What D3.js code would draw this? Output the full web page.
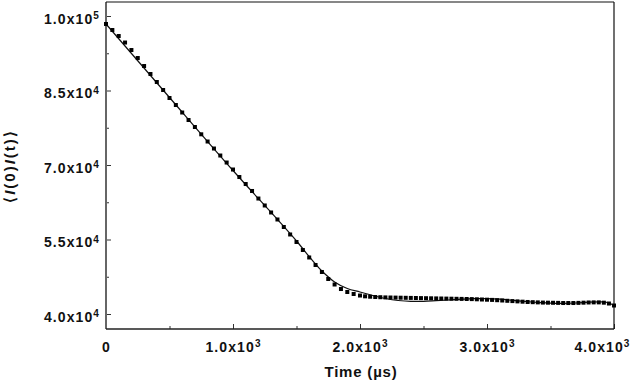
<!DOCTYPE html>
<html>
<head>
<meta charset="utf-8">
<script src="https://cdn.jsdelivr.net/npm/d3@7"></script>
<style>
  body { margin: 0; background: #fff; }
  svg text { font-family: "Liberation Sans", Arial, sans-serif; font-weight: bold; fill: #111; }
</style>
</head>
<body>
<svg id="chart" width="636" height="389"></svg>
<script>
// measured correlation (squares)
const pointTimes = [
  0, 50, 100, 150, 200, 250, 300, 350, 400, 450, 500, 550, 600, 650, 700, 750, 800, 850, 900, 950,
  1000, 1050, 1100, 1150, 1200, 1250, 1300, 1350, 1400, 1450, 1500, 1550, 1600, 1650, 1700, 1750,
  1800, 1850, 1900, 1950, 2000,
  2040, 2080, 2120, 2160, 2200, 2240, 2280, 2320, 2360, 2400, 2440, 2480, 2520, 2560, 2600, 2640,
  2680, 2720, 2760, 2800, 2840, 2880, 2920, 2960, 3000, 3040, 3080, 3120, 3160, 3200, 3240, 3280,
  3320, 3360, 3400, 3440, 3480, 3520, 3560, 3600, 3640, 3680, 3720, 3760, 3800, 3840, 3880, 3920,
  3960, 4000
]
const pointValues = [
  98390, 97180, 95970, 94660, 93150, 91540, 89930, 88320, 86710, 85100, 83490, 82080, 80570, 79060,
  77650, 76180, 74730, 73320, 71910, 70500, 69090, 67580, 66170, 64770, 63250, 61850, 60440, 59030,
  57520, 56010, 54500, 52890, 51380, 49870, 48460, 47050, 45940, 45030, 44430, 44030, 43720,
  43560, 43480, 43420, 43380, 43340, 43320, 43300, 43280, 43260, 43240, 43220, 43200, 43180, 43160,
  43140, 43120, 43100, 43080, 43060, 43040, 43020, 43000, 42960, 42920, 42880, 42840, 42780, 42720,
  42660, 42600, 42540, 42480, 42420, 42380, 42340, 42300, 42280, 42260, 42240, 42210, 42210, 42210,
  42240, 42280, 42320, 42340, 42340, 42280, 42110, 41710
]

// fitted curve (solid line)
const fitTimes = [0, 500, 1000, 1500, 1700, 1800, 1900, 2000, 2100, 2200, 2300, 2400, 2500, 2600,
  2700, 2800, 2900, 3000, 3100, 3200, 3300, 3400, 3500, 3600, 3700, 3800, 3900, 3950, 4000]
const fitValues = [98390, 83590, 68890, 54700, 48660, 46440, 45130, 44430, 43720, 43120, 42720,
  42560, 42560, 42680, 42820, 42980, 43080, 43080, 42980, 42760, 42520, 42320, 42170, 42150, 42210,
  42380, 42460, 42320, 41710]

const xMajor = [0, 1000, 2000, 3000, 4000]
const xMinor = [500, 1500, 2500, 3500]
const yMajor = [40000, 55000, 70000, 85000, 100000]
const yMinor = [47500, 62500, 77500, 92500]

const svg = d3.select('#chart')
const x = d3.scaleLinear().domain([0, 4000]).range([106, 614])
const y = d3.scaleLinear().domain([36980, 102820]).range([329, 2])

function sciLabel (sel) {
  sel.each(function (v) {
    const t = d3.select(this).text(null)
    if (v === 0) { t.text('0'); return }
    const e = Math.floor(Math.log10(v))
    t.append('tspan').text((v / 10 ** e).toFixed(1) + 'x10')
    t.append('tspan').attr('dy', '-0.45em').attr('font-size', '10px').text(e)
  })
}

// axes, ticks pointing inward
const yAxis = svg.append('g').attr('transform', `translate(${x.range()[0]},0)`)
  .call(d3.axisLeft(y).tickValues(yMajor).tickSize(-5).tickPadding(6))
yAxis.selectAll('text').attr('dy', '0.5em').style('font-size', '14px')
  .style('letter-spacing', '1.1px').call(sciLabel)
svg.append('g').attr('transform', `translate(${x.range()[0]},0)`)
  .call(d3.axisLeft(y).tickValues(yMinor).tickSize(-3).tickFormat(''))

const xAxis = svg.append('g').attr('transform', `translate(0,${y.range()[0]})`)
  .call(d3.axisBottom(x).tickValues(xMajor).tickSize(-5).tickPadding(13))
xAxis.selectAll('text').style('font-size', '14px').style('letter-spacing', '1.1px').call(sciLabel)
xAxis.selectAll('text').filter(d => d === 4000).attr('text-anchor', 'end').attr('dx', 16)
svg.append('g').attr('transform', `translate(0,${y.range()[0]})`)
  .call(d3.axisBottom(x).tickValues(xMinor).tickSize(-3).tickFormat(''))

svg.selectAll('.domain').remove()
svg.selectAll('.tick line').attr('stroke', '#333')

// frame
const [x0, x1] = x.range()
const [y0, y1] = y.range()
svg.append('line').attr('x1', x0).attr('x2', x0).attr('y1', y1).attr('y2', y0)
  .attr('stroke', '#666').attr('stroke-width', 2)
svg.append('line').attr('x1', x0).attr('x2', x1).attr('y1', y0).attr('y2', y0)
  .attr('stroke', '#222').attr('stroke-width', 1.5)
svg.append('line').attr('x1', x0).attr('x2', x1).attr('y1', y1).attr('y2', y1)
  .attr('stroke', '#111').attr('stroke-width', 1.2)
svg.append('line').attr('x1', x1).attr('x2', x1).attr('y1', y1).attr('y2', y0)
  .attr('stroke', '#111').attr('stroke-width', 1.2)

// fitted line
const fit = fitTimes.map((t, i) => [t, fitValues[i]])
const line = d3.line().x(d => x(d[0])).y(d => y(d[1])).curve(d3.curveMonotoneX)
svg.append('path').datum(fit).attr('d', line)
  .attr('fill', 'none').attr('stroke', '#111').attr('stroke-width', 1.2)

// squares
const pts = pointTimes.map((t, i) => [t, pointValues[i]])
const s = 4
svg.append('g').selectAll('rect').data(pts).join('rect')
  .attr('x', d => x(d[0]) - s / 2).attr('y', d => y(d[1]) - s / 2)
  .attr('width', s).attr('height', s).attr('fill', '#000')

// axis titles
svg.append('text').attr('x', 361).attr('y', 377).attr('text-anchor', 'middle')
  .style('font-size', '15px').style('letter-spacing', '0.8px').text('Time (µs)')

const yt = svg.append('text').attr('transform', 'translate(15,166) rotate(-90)')
  .attr('text-anchor', 'middle').style('font-size', '15px').style('letter-spacing', '2px')
yt.append('tspan').text('⟨')
yt.append('tspan').style('font-style', 'italic').text('I')
yt.append('tspan').text('(0)')
yt.append('tspan').style('font-style', 'italic').text('I')
yt.append('tspan').text('(t)⟩')
</script>
</body>
</html>
